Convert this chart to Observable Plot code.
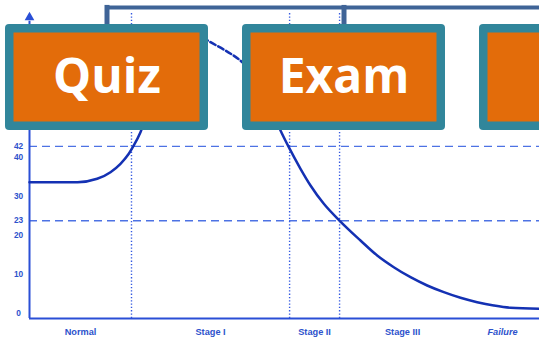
<!DOCTYPE html>
<html>
<head>
<meta charset="utf-8">
<script src="https://cdn.jsdelivr.net/npm/d3@7"></script>
<script src="https://cdn.jsdelivr.net/npm/@observablehq/plot@0.6"></script>
<style>
  html, body { margin: 0; padding: 0; background: #fff; }
  #wrap { position: relative; width: 539px; height: 340px; overflow: hidden; }
</style>
</head>
<body>
<div id="wrap"></div>
<script>
// ---- data ----
const curveX = [0, 9.41, 13.27, 15.88, 17.84, 19.47, 20.45, 21.76, 23.3, 25.1, 26.9, 28.8, 31.2, 33.5, 35.5, 38.4, 41.7, 45.3, 47.6, 49.22, 50.84, 53.14, 55.1, 57.71, 60.78, 64.9, 68.18, 71.43, 74.71, 77.98, 81.24, 84.51, 87.78, 91.04, 94.31, 100];
const curveY = [32.86, 32.86, 33.73, 35.42, 37.57, 40.12, 42.25, 45.65, 51.2, 58.9, 65.3, 70.0, 71.4, 70.2, 68.66, 66.54, 63.55, 57.8, 51.0, 46.08, 41.81, 36.29, 32.02, 27.34, 23.06, 17.95, 14.11, 11.12, 8.56, 6.44, 4.73, 3.29, 2.17, 1.32, 0.74, 0.48];
const dashedFrom = 23.3;   // part of the curve drawn dashed (theoretical peak)
const dashedTo = 47.6;
const stageNames = ["Normal", "Stage I", "Stage II", "Stage III", "Failure"];
const stageBounds = [0, 20, 51, 60.8, 85.5, 100];
const dottedDividers = [20, 51, 60.8];
const refLevels = [42, 23];
const yTicks = [0, 10, 20, 30, 40];
const boxLabels = ["Quiz", "Exam", " "];

// ---- build ----
const curve = curveX.map((x, i) => ({x, y: curveY[i]}));
const solidA = curve.filter(d => d.x <= dashedFrom);
const solidB = curve.filter(d => d.x >= dashedTo);
const dashed = curve.filter(d => d.x >= dashedFrom && d.x <= dashedTo);
const stages = stageNames.map((name, i) => ({name, mid: (stageBounds[i] + stageBounds[i + 1]) / 2}));

const axisColor = "#2a4fd6";
const textColor = "#2d52cc";
const curveColor = "#1431b3";
const tickStyle = {tickSize: 0, tickPadding: 11, textAnchor: "middle", fontSize: 8.3, fontWeight: "bold", fill: textColor, tickFormat: d => String(d), label: null};

const chart = Plot.plot({
  width: 539, height: 340,
  marginLeft: 29, marginRight: 0, marginTop: 13, marginBottom: 22,
  x: {domain: [0, 100], axis: null},
  y: {domain: [-2, 76], axis: null},
  style: {fontFamily: "'Liberation Sans', Arial, sans-serif", background: "white"},
  marks: [
    Plot.ruleY(refLevels, {stroke: "#4d72e4", strokeWidth: 1.3, strokeDasharray: "8,5"}),
    Plot.ruleX(dottedDividers, {y1: -2, y2: 76, stroke: "#3358e0", strokeWidth: 1.4, strokeDasharray: "1.3,2"}),
    Plot.ruleY([-2], {stroke: axisColor, strokeWidth: 2}),
    Plot.ruleX([0], {y1: -2, y2: 74, stroke: axisColor, strokeWidth: 2}),
    Plot.dot([0], {x: d => d, y: 75, symbol: "triangle", r: 3.6, fill: axisColor, stroke: "none"}),
    Plot.axisY({...tickStyle, ticks: yTicks, dy: 3}),
    Plot.axisY({...tickStyle, ticks: refLevels, dy: 0}),
    Plot.line(solidA, {x: "x", y: "y", curve: "monotone-x", stroke: curveColor, strokeWidth: 2.5}),
    Plot.line(solidB, {x: "x", y: "y", curve: "monotone-x", stroke: curveColor, strokeWidth: 2.5}),
    Plot.line(dashed, {x: "x", y: "y", curve: "monotone-x", stroke: curveColor, strokeWidth: 2.5, strokeDasharray: "6,3"}),
    Plot.text(stages, {filter: d => d.name !== "Failure", x: "mid", y: -2, dy: 14, text: "name", fontSize: 9.2, fontWeight: "bold", fill: textColor}),
    Plot.text(stages, {filter: d => d.name === "Failure", x: "mid", y: -2, dy: 14, text: "name", fontSize: 9.2, fontWeight: "bold", fontStyle: "italic", fill: textColor})
  ]
});

const overlay = Plot.plot({
  width: 539, height: 340,
  marginTop: 0, marginRight: 0, marginBottom: 0, marginLeft: 0,
  x: {type: "band", domain: boxLabels, range: [5, 683], paddingInner: 0.143, paddingOuter: 0, align: 0, axis: null},
  y: {domain: [0, 1], range: [130, 24], axis: null},
  style: {position: "absolute", left: "0px", top: "0px", background: "transparent"},
  marks: [
    Plot.line(boxLabels.map(b => ({b, v: 1.16})), {x: "b", y: "v", stroke: "#3f6497", strokeWidth: 4, strokeLinecap: "square"}),
    Plot.ruleX(boxLabels, {x: d => d, y1: 1, y2: 1.18, stroke: "#3f6497", strokeWidth: 5}),
    Plot.barY(boxLabels, {x: d => d, y1: 0, y2: 1, fill: "#31869b", rx: 4}),
    Plot.barY(boxLabels, {x: d => d, y1: 0, y2: 1, fill: "#e36c0a", inset: 8.5}),
    Plot.text(boxLabels, {x: d => d, y: 0.5, text: d => d, fill: "white", fontSize: 48, fontWeight: "bold", fontFamily: "'Open Sans', sans-serif"})
  ]
});

const wrap = document.getElementById("wrap");
wrap.appendChild(chart);
wrap.appendChild(overlay);
</script>
</body>
</html>
